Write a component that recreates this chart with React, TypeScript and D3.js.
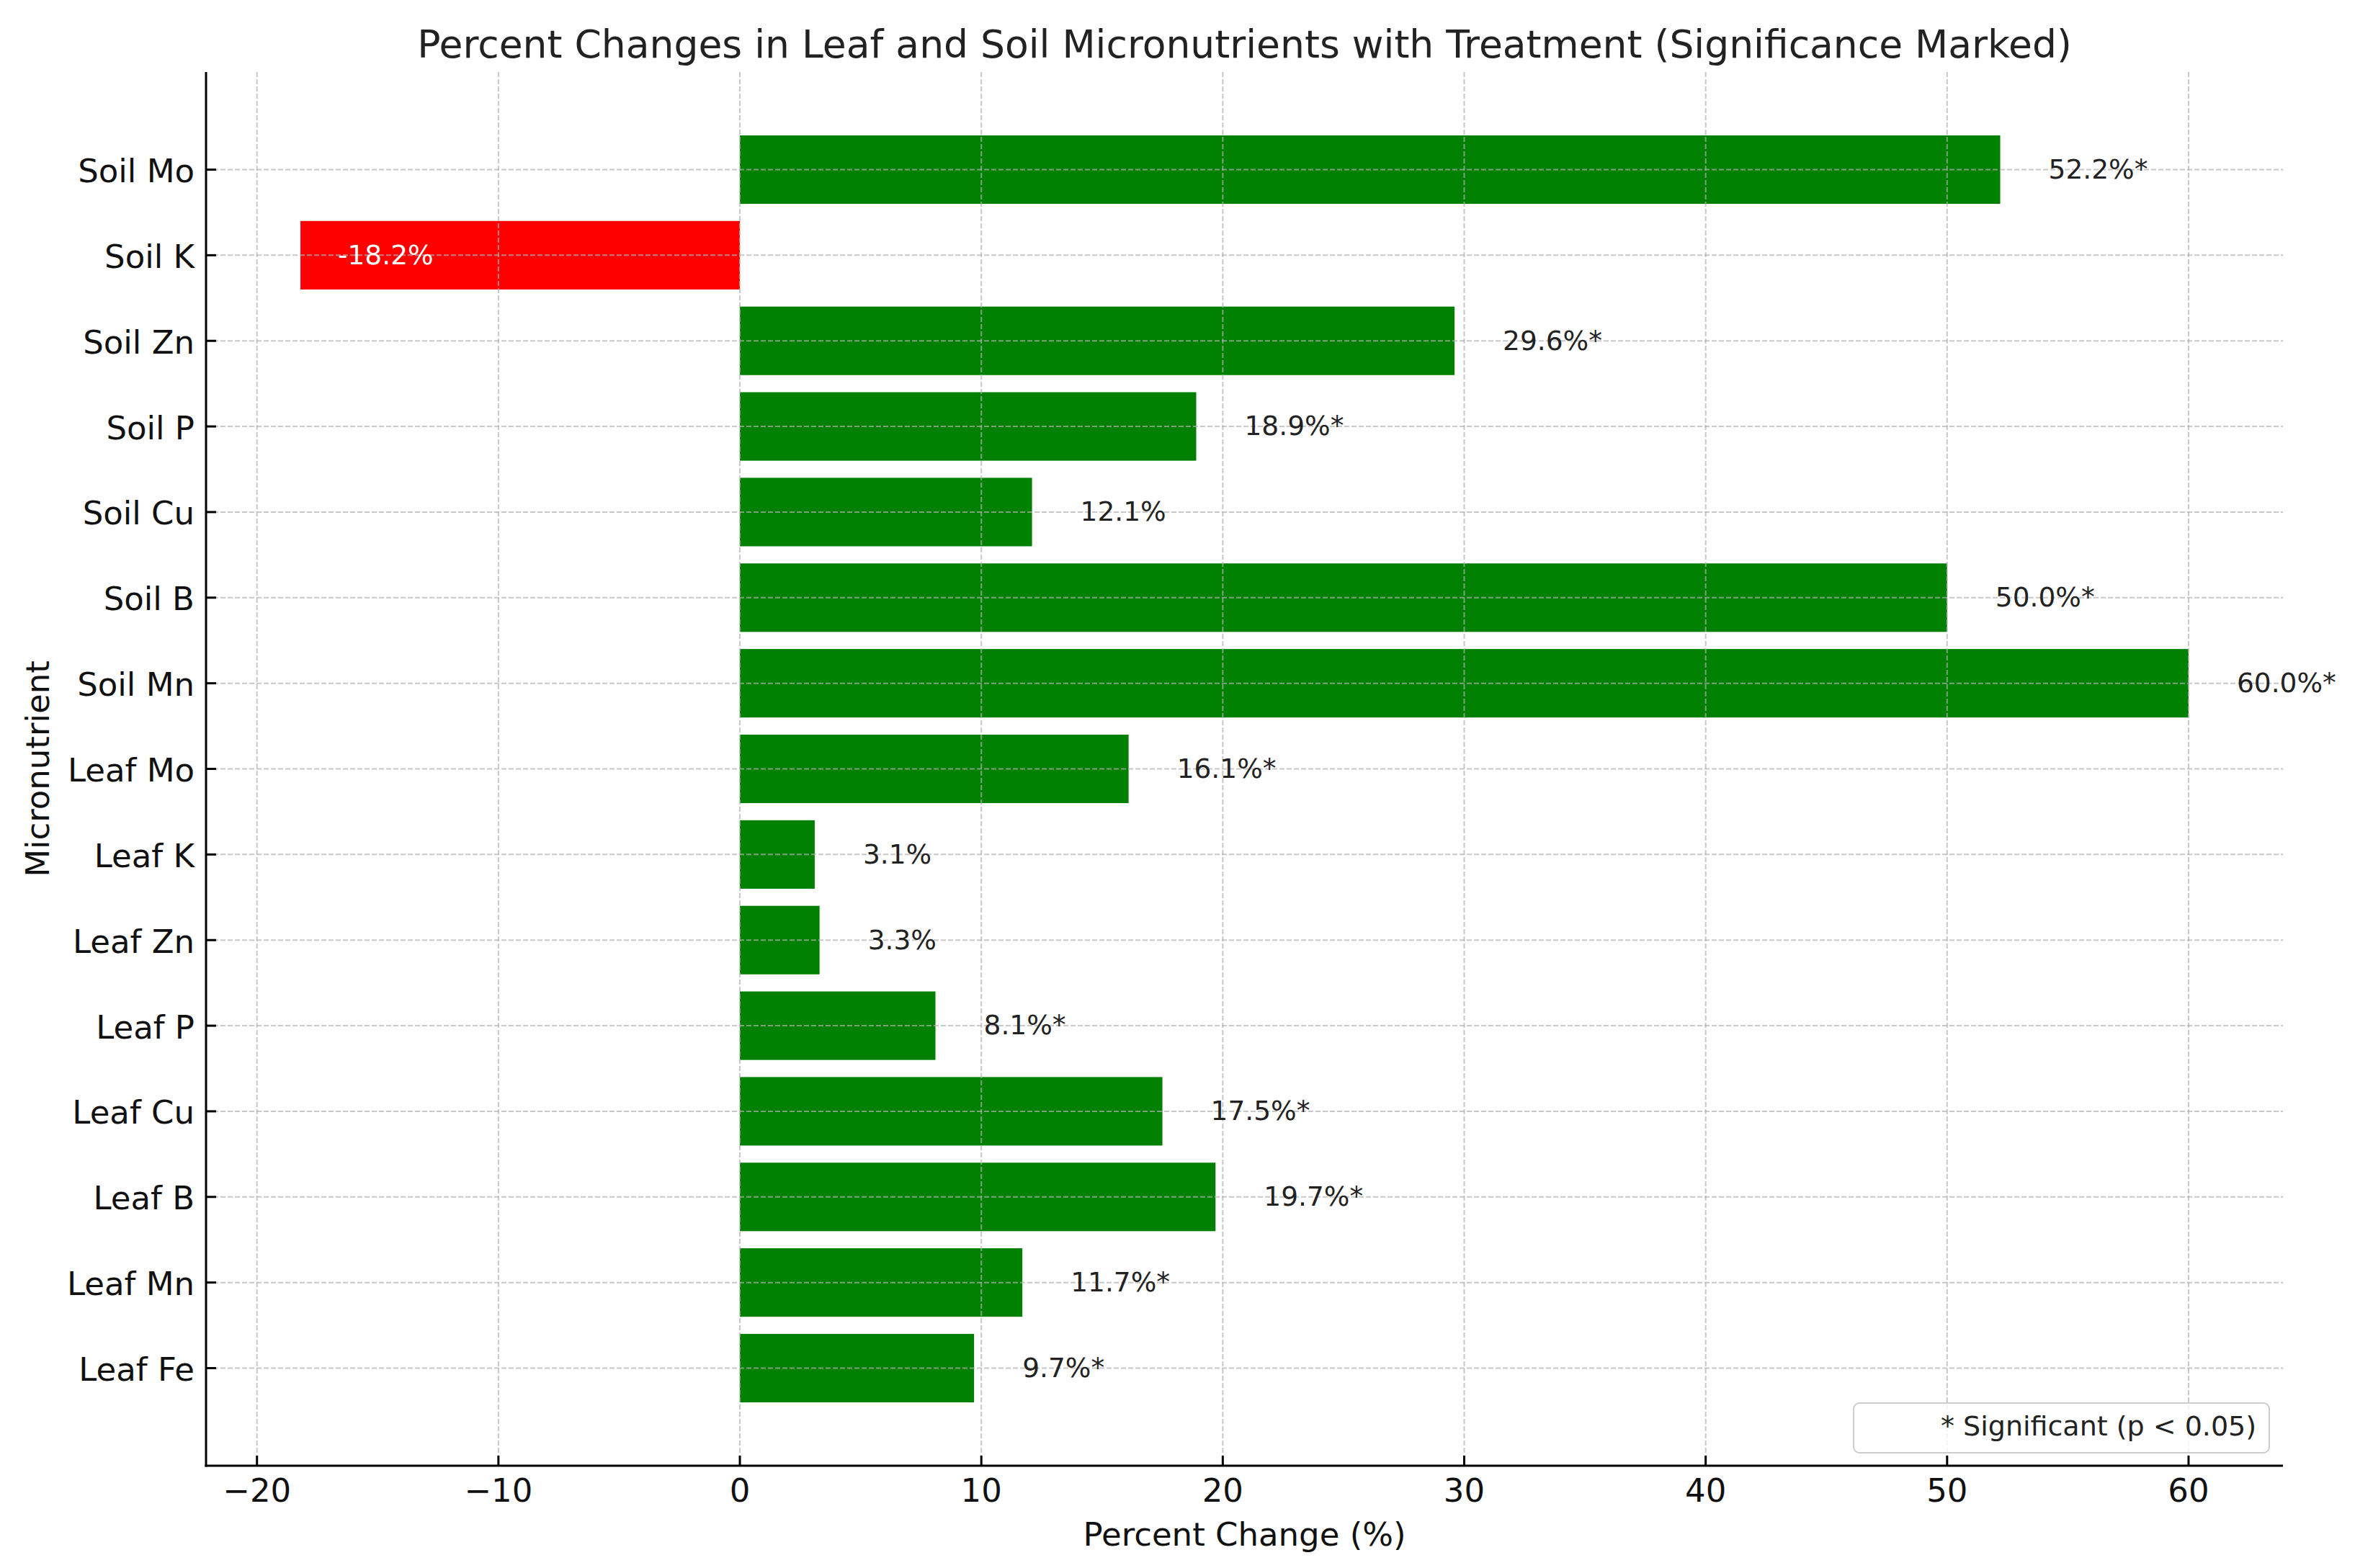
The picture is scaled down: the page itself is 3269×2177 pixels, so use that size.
import React from "react";
import * as d3 from "d3";

const categories = [
  "Leaf Fe", "Leaf Mn", "Leaf B", "Leaf Cu", "Leaf P", "Leaf Zn", "Leaf K", "Leaf Mo",
  "Soil Mn", "Soil B", "Soil Cu", "Soil P", "Soil Zn", "Soil K", "Soil Mo",
];
const percentChange = [9.7, 11.7, 19.7, 17.5, 8.1, 3.3, 3.1, 16.1, 60.0, 50.0, 12.1, 18.9, 29.6, -18.2, 52.2];
const significant = [true, true, true, true, true, false, false, true, true, true, false, true, true, false, true];
const xTickValues = [-20, -10, 0, 10, 20, 30, 40, 50, 60];
const titleText = "Percent Changes in Leaf and Soil Micronutrients with Treatment (Significance Marked)";
const xLabelText = "Percent Change (%)";
const yLabelText = "Micronutrient";
const legendText = "* Significant (p < 0.05)";

const W = 3269;
const H = 2177;
const M = { left: 286, right: 3169, top: 100, bottom: 2035 };
const FONT = "'DejaVu Sans', Verdana, sans-serif";

export default function App() {
  const x = d3.scaleLinear().domain([-22.11, 63.91]).range([M.left, M.right]);
  const y = d3
    .scaleBand<string>()
    .domain(categories)
    .range([M.bottom, M.top])
    .paddingInner(0.2)
    .paddingOuter(0.74);
  const bw = y.bandwidth();
  const yc = (c: string) => (y(c) as number) + bw / 2;
  const fmtTick = (v: number) => (v < 0 ? "\u2212" + Math.abs(v) : String(v));

  const tickFs = 45;
  const valFs = 37.5;

  return (
    <svg
      width={W}
      height={H}
      viewBox={`0 0 ${W} ${H}`}
      style={{ position: "absolute", left: 0, top: 0, background: "#fff" }}
      fontFamily={FONT}
    >
      <rect x={0} y={0} width={W} height={H} fill="#fff" />
      {/* bars */}
      {categories.map((c, i) => {
        const v = percentChange[i];
        const x0 = x(Math.min(0, v));
        const x1 = x(Math.max(0, v));
        return (
          <rect
            key={"bar" + c}
            x={x0}
            y={y(c) as number}
            width={x1 - x0}
            height={bw}
            fill={v < 0 ? "#ff0000" : "#008000"}
          />
        );
      })}
      {/* grid */}
      <g stroke="#b0b0b0" strokeOpacity={0.7} strokeWidth={2} strokeDasharray="7 3">
        {xTickValues.map((t) => (
          <line key={"gx" + t} x1={x(t)} x2={x(t)} y1={M.top} y2={M.bottom} />
        ))}
        {categories.map((c) => (
          <line key={"gy" + c} x1={M.left} x2={M.right} y1={yc(c)} y2={yc(c)} />
        ))}
      </g>
      {/* value labels */}
      {categories.map((c, i) => {
        const v = percentChange[i];
        const label = `${v.toFixed(1)}%${significant[i] ? "*" : ""}`;
        const tx = v < 0 ? x(v + 1.55) : x(v + 2);
        return (
          <text
            key={"lab" + c}
            x={tx}
            y={yc(c) + valFs * 0.33}
            fontSize={valFs}
            fill={v < 0 ? "#ffffff" : "#222222"}
            textAnchor="start"
          >
            {label}
          </text>
        );
      })}
      {/* spines */}
      <line x1={M.left} x2={M.left} y1={M.top} y2={M.bottom + 1.5} stroke="#000" strokeWidth={3} />
      <line x1={M.left - 1.5} x2={M.right} y1={M.bottom} y2={M.bottom} stroke="#000" strokeWidth={3} />
      {/* x ticks */}
      {xTickValues.map((t) => (
        <g key={"xt" + t}>
          <line x1={x(t)} x2={x(t)} y1={M.bottom} y2={M.bottom - 14} stroke="#000" strokeWidth={3} />
          <text x={x(t)} y={2085} fontSize={tickFs} textAnchor="middle" fill="#111">
            {fmtTick(t)}
          </text>
        </g>
      ))}
      {/* y ticks */}
      {categories.map((c) => (
        <g key={"yt" + c}>
          <line x1={M.left} x2={M.left + 14} y1={yc(c)} y2={yc(c)} stroke="#000" strokeWidth={3} />
          <text x={270} y={yc(c) + tickFs * 0.39} fontSize={tickFs} textAnchor="end" fill="#111">
            {c}
          </text>
        </g>
      ))}
      {/* axis labels */}
      <text x={(M.left + M.right) / 2} y={2146} fontSize={45} textAnchor="middle" fill="#111">
        {xLabelText}
      </text>
      <text
        transform={`translate(68, ${(M.top + M.bottom) / 2}) rotate(-90)`}
        fontSize={45}
        textAnchor="middle"
        fill="#111"
      >
        {yLabelText}
      </text>
      {/* title */}
      <text x={(M.left + M.right) / 2} y={80} fontSize={53.5} textAnchor="middle" fill="#222">
        {titleText}
      </text>
      {/* legend */}
      <rect
        x={2573}
        y={1948}
        width={577}
        height={69}
        rx={8}
        ry={8}
        fill="#ffffff"
        fillOpacity={0.8}
        stroke="#cccccc"
        strokeWidth={2}
      />
      <text x={2694} y={1993} fontSize={38} fill="#222">
        {legendText}
      </text>
    </svg>
  );
}
